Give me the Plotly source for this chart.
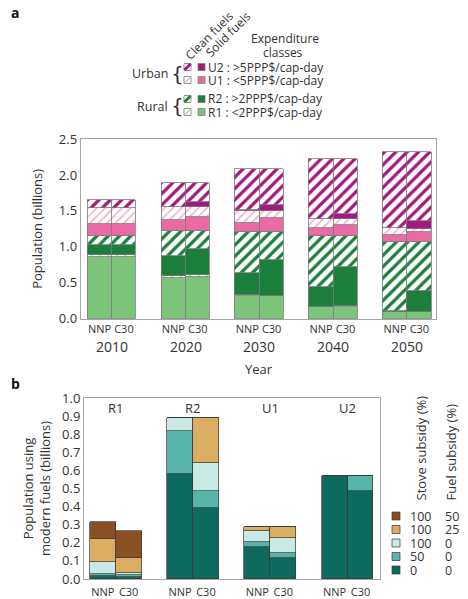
import plotly.graph_objects as go

# page shows the figure with an 8px body margin: compensate
OFS = 8
W, H = 468 - OFS, 599 - OFS

# ---------------- Panel a data ----------------
years = ["2010", "2020", "2030", "2040", "2050"]
scenarios = ["NNP", "C30"]

r1_solid_nnp = [0.865, 0.570, 0.315, 0.158, 0.088]
r1_clean_nnp = [0.015, 0.025, 0.010, 0.005, 0.003]
r2_solid_nnp = [0.145, 0.277, 0.306, 0.282, 0.010]
r2_clean_nnp = [0.125, 0.353, 0.579, 0.705, 0.961]
u1_solid_nnp = [0.167, 0.148, 0.117, 0.107, 0.102]
u1_clean_nnp = [0.218, 0.176, 0.176, 0.125, 0.093]
u2_solid_nnp = [0.010, 0.005, 0.005, 0.005, 0.005]
u2_clean_nnp = [0.106, 0.329, 0.570, 0.835, 1.062]

r1_solid_c30 = [0.865, 0.584, 0.315, 0.167, 0.097]
r1_clean_c30 = [0.015, 0.019, 0.005, 0.004, 0.003]
r2_solid_c30 = [0.145, 0.362, 0.496, 0.553, 0.280]
r2_clean_c30 = [0.125, 0.260, 0.394, 0.426, 0.682]
u1_solid_c30 = [0.167, 0.185, 0.186, 0.153, 0.148]
u1_clean_c30 = [0.218, 0.139, 0.107, 0.079, 0.038]
u2_solid_c30 = [0.010, 0.079, 0.077, 0.074, 0.116]
u2_clean_c30 = [0.106, 0.255, 0.498, 0.766, 0.960]

# ---------------- Panel b data ----------------
groups_b = ["R1", "R2", "U1", "U2"]
stove_subsidy = ["100", "100", "100", "50", "0"]
fuel_subsidy = ["50", "25", "0", "0", "0"]
# order: R1 NNP, R1 C30, R2 NNP, R2 C30, U1 NNP, U1 C30, U2 NNP, U2 C30
sub_0_0 = [0.018, 0.012, 0.582, 0.394, 0.177, 0.118, 0.569, 0.488]
sub_50_0 = [0.012, 0.010, 0.234, 0.090, 0.027, 0.027, 0.000, 0.081]
sub_100_0 = [0.066, 0.009, 0.072, 0.155, 0.063, 0.080, 0.000, 0.000]
sub_100_25 = [0.125, 0.087, 0.000, 0.249, 0.020, 0.062, 0.000, 0.000]
sub_100_50 = [0.094, 0.149, 0.000, 0.000, 0.000, 0.000, 0.000, 0.000]

# ---------------- styles ----------------
FONT = "Open Sans"
TXT = "#333333"
EDGE = "#7a7a7a"
FRAME = "#a6a6a6"

C_U2 = "#a2197f"
C_U1 = "#ea6aa3"
C_U1L = "#f3a9c9"
C_R2 = "#1c7f3c"
C_R1 = "#7bc47a"
C_R1L = "#a9dba6"

C_B = ["#8a4f22", "#dbad62", "#c9e9e5", "#58b4a8", "#0e6a5c"]  # 100/50, 100/25, 100/0, 50/0, 0/0

fig = go.Figure()

BW = 0.33
OFF = 0.165
x_nnp = [i - OFF for i in range(len(years))]
x_c30 = [i + OFF for i in range(len(years))]


def add_a(vals_nnp, vals_c30, color, hatch=False, light=False):
    xs = x_nnp + x_c30
    ys = vals_nnp + vals_c30
    if hatch:
        marker = dict(
            color="white",
            pattern=dict(shape="/", fgcolor=color, bgcolor="white",
                         size=8 if not light else 6,
                         solidity=0.4 if not light else 0.25,
                         fillmode="replace"),
            line=dict(color=EDGE, width=0.8),
        )
    else:
        marker = dict(color=color, line=dict(color=EDGE, width=0.8))
    fig.add_trace(go.Bar(x=xs, y=ys, width=BW, marker=marker, showlegend=False,
                         xaxis="x", yaxis="y"))


add_a(r1_solid_nnp, r1_solid_c30, C_R1)
add_a(r1_clean_nnp, r1_clean_c30, C_R1L, hatch=True, light=True)
add_a(r2_solid_nnp, r2_solid_c30, C_R2)
add_a(r2_clean_nnp, r2_clean_c30, C_R2, hatch=True)
add_a(u1_solid_nnp, u1_solid_c30, C_U1)
add_a(u1_clean_nnp, u1_clean_c30, C_U1L, hatch=True, light=True)
add_a(u2_solid_nnp, u2_solid_c30, C_U2)
add_a(u2_clean_nnp, u2_clean_c30, C_U2, hatch=True)

# panel b
BWb = 0.335
OFFb = 0.1675
xb = []
for i in range(len(groups_b)):
    xb += [i - OFFb, i + OFFb]

for vals, col in zip([sub_0_0, sub_50_0, sub_100_0, sub_100_25, sub_100_50],
                     [C_B[4], C_B[3], C_B[2], C_B[1], C_B[0]]):
    fig.add_trace(go.Bar(x=xb, y=vals, width=BWb,
                         marker=dict(color=col, line=dict(color="#3a3a3a", width=0.7)),
                         showlegend=False, xaxis="x2", yaxis="y2"))


def px(x):
    return (x - OFS) / W


def py(y):
    return 1 - (y - OFS) / H


axis_common = dict(showline=True, mirror=True, linecolor=FRAME, linewidth=1,
                   showgrid=False, zeroline=False, ticks="", automargin=False)

fig.update_layout(
    width=W, height=H,
    margin=dict(l=0, r=0, t=0, b=0, autoexpand=False),
    paper_bgcolor="white", plot_bgcolor="white",
    barmode="stack", bargap=0,
    font=dict(family=FONT, color=TXT, size=12),
    xaxis=dict(domain=[px(80.7), px(436)], range=[-0.42, 4.39],
               tickvals=x_nnp + x_c30,
               ticktext=["NNP"] * len(years) + ["C30"] * len(years),
               tickfont=dict(size=11), anchor="y", **axis_common),
    yaxis=dict(domain=[py(318.7), py(139)], range=[0, 2.5], dtick=0.5,
               tickformat=".1f", tickfont=dict(size=13), anchor="x",
               title=dict(text="Population (billions)", font=dict(size=13), standoff=13),
               **axis_common),
    xaxis2=dict(domain=[px(84), px(380)], range=[-0.41, 3.42],
                tickvals=xb, ticktext=["NNP", "C30"] * len(groups_b),
                tickfont=dict(size=11), anchor="y2", ticklabelstandoff=3, **axis_common),
    yaxis2=dict(domain=[py(579), py(398)], range=[0, 1.0], dtick=0.1,
                tickformat=".1f", tickfont=dict(size=13), anchor="x2",
                title=dict(text="Population using<br>modern fuels (billions)",
                           font=dict(size=13), standoff=8),
                **axis_common),
)

ann = []
shapes = []


def A(**kw):
    d = dict(xref="paper", yref="paper", showarrow=False, xanchor="center", yanchor="middle")
    d.update(kw)
    ann.append(d)


# panel labels
A(x=px(9), y=py(13), text="<b>a</b>", xanchor="left", font=dict(size=14, color="#111"))
A(x=px(9), y=py(383), text="<b>b</b>", xanchor="left", font=dict(size=14, color="#111"))

# year labels & axis title
for i, yr in enumerate(years):
    A(x=i, xref="x", y=py(346), text=yr, font=dict(size=14))
A(x=px(259), y=py(369), text="Year", font=dict(size=13))

# panel b group labels
for i, g in enumerate(groups_b):
    A(x=i, xref="x2", y=py(408), text=g, font=dict(size=13))

# panel a legend
A(x=px(209), y=py(35), text="Clean fuels", textangle=-45, font=dict(size=12))
A(x=px(227.5), y=py(34), text="Solid fuels", textangle=-45, font=dict(size=12))
A(x=px(285), y=py(38), text="Expenditure", font=dict(size=12))
A(x=px(283), y=py(52), text="classes", font=dict(size=12))

legend_rows = [
    ("U2 : >5PPP$/cap-day", 67, C_U2, C_U2, 3.0),
    ("U1 : <5PPP$/cap-day", 80, C_U1L, C_U1, 1.2),
    ("R2 : >2PPP$/cap-day", 99, C_R2, C_R2, 3.0),
    ("R1 : <2PPP$/cap-day", 112, C_R1L, C_R1, 1.2),
]
for text, yc, hcol, scol, lw in legend_rows:
    x0, x1 = 184, 191
    shapes.append(dict(type="rect", xref="paper", yref="paper", x0=px(x0), x1=px(x1),
                       y0=py(yc + 3.5), y1=py(yc - 3.5), fillcolor="white",
                       line=dict(color=EDGE, width=0.8)))
    shapes.append(dict(type="line", xref="paper", yref="paper", x0=px(x0 + 0.5), x1=px(x1 - 0.5),
                       y0=py(yc + 3), y1=py(yc - 3), line=dict(color=hcol, width=lw)))
    shapes.append(dict(type="rect", xref="paper", yref="paper", x0=px(198), x1=px(205),
                       y0=py(yc + 3.5), y1=py(yc - 3.5), fillcolor=scol,
                       line=dict(color=EDGE, width=0.8)))
    A(x=px(205.5), y=py(yc), text=text, xanchor="left", font=dict(size=12))

A(x=px(170), y=py(73.5), text="Urban", xanchor="right", font=dict(size=12.5))
A(x=px(170), y=py(106.5), text="Rural", xanchor="right", font=dict(size=12.5))
A(x=px(177), y=py(73.5), text="{", font=dict(size=20, family="DejaVu Sans"))
A(x=px(177), y=py(106.5), text="{", font=dict(size=20, family="DejaVu Sans"))

# panel b legend (kept inside the visible page width)
rows_b = [516, 529.5, 543, 556.5, 570]
for i, yc in enumerate(rows_b):
    shapes.append(dict(type="rect", xref="paper", yref="paper", x0=px(392), x1=px(400),
                       y0=py(yc + 4), y1=py(yc - 4), fillcolor=C_B[i],
                       line=dict(color="#3a3a3a", width=0.7)))
    A(x=px(408), y=py(yc), text=stove_subsidy[i], xanchor="left", font=dict(size=12.5))
    A(x=px(443), y=py(yc), text=fuel_subsidy[i], xanchor="left", font=dict(size=12.5))
A(x=px(420), y=py(503), text="Stove subsidy (%)", textangle=-90, yanchor="bottom",
  font=dict(size=13))
A(x=px(450), y=py(503), text="Fuel subsidy (%)", textangle=-90, yanchor="bottom",
  font=dict(size=13))

fig.update_layout(annotations=ann, shapes=shapes)

fig.write_html("out.html")
